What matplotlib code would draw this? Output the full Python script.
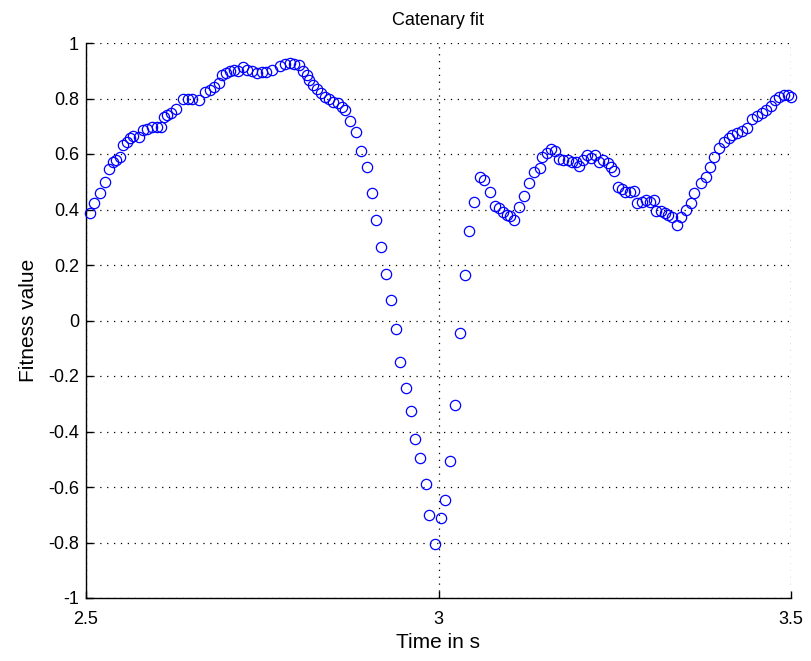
import matplotlib
matplotlib.use("Agg")
import matplotlib.pyplot as plt
from matplotlib.ticker import FixedLocator, FixedFormatter

# ---- data ----
time_s = [
    2.506, 2.512, 2.520, 2.527, 2.533, 2.539, 2.543, 2.548, 2.552, 2.558,
    2.563, 2.567, 2.575, 2.581, 2.586, 2.593, 2.600, 2.606, 2.610, 2.615,
    2.621, 2.628, 2.637, 2.645, 2.650, 2.660, 2.669, 2.676, 2.682, 2.688,
    2.693, 2.698, 2.704, 2.710, 2.716, 2.723, 2.728, 2.735, 2.743, 2.750,
    2.756, 2.764, 2.775, 2.782, 2.789, 2.795, 2.802, 2.808, 2.813, 2.817,
    2.822, 2.827, 2.833, 2.839, 2.845, 2.851, 2.858, 2.863, 2.868, 2.875,
    2.883, 2.890, 2.898, 2.905, 2.911, 2.918, 2.925, 2.932, 2.940, 2.945,
    2.954, 2.961, 2.967, 2.974, 2.982, 2.987, 2.995, 3.003, 3.009, 3.017,
    3.024, 3.030, 3.037, 3.043, 3.051, 3.059, 3.065, 3.073, 3.080, 3.086,
    3.092, 3.097, 3.101, 3.107, 3.114, 3.121, 3.129, 3.135, 3.144, 3.147,
    3.154, 3.160, 3.165, 3.171, 3.177, 3.184, 3.190, 3.195, 3.199, 3.205,
    3.211, 3.217, 3.222, 3.228, 3.234, 3.240, 3.245, 3.249, 3.254, 3.260,
    3.265, 3.272, 3.278, 3.282, 3.288, 3.294, 3.300, 3.306, 3.309, 3.315,
    3.321, 3.326, 3.331, 3.339, 3.344, 3.351, 3.358, 3.363, 3.373, 3.379,
    3.385, 3.391, 3.398, 3.405, 3.412, 3.417, 3.424, 3.431, 3.438, 3.445,
    3.452, 3.459, 3.465, 3.471, 3.477, 3.483, 3.490, 3.496, 3.500,
]
fitness = [
    0.388, 0.425, 0.458, 0.500, 0.546, 0.572, 0.580, 0.590, 0.632, 0.644,
    0.657, 0.665, 0.660, 0.686, 0.691, 0.698, 0.696, 0.698, 0.734, 0.741,
    0.747, 0.761, 0.800, 0.800, 0.800, 0.795, 0.825, 0.830, 0.843, 0.855,
    0.885, 0.891, 0.900, 0.903, 0.900, 0.915, 0.903, 0.900, 0.893, 0.895,
    0.897, 0.903, 0.917, 0.924, 0.929, 0.924, 0.921, 0.900, 0.885, 0.867,
    0.849, 0.833, 0.821, 0.807, 0.797, 0.789, 0.783, 0.770, 0.759, 0.720,
    0.680, 0.611, 0.552, 0.458, 0.361, 0.265, 0.168, 0.074, -0.030, -0.151,
    -0.243, -0.327, -0.428, -0.497, -0.589, -0.701, -0.807, -0.711, -0.647, -0.505,
    -0.306, -0.044, 0.163, 0.321, 0.426, 0.518, 0.506, 0.464, 0.413, 0.404,
    0.392, 0.380, 0.377, 0.362, 0.408, 0.449, 0.497, 0.536, 0.548, 0.590,
    0.603, 0.617, 0.612, 0.581, 0.578, 0.578, 0.572, 0.572, 0.557, 0.578,
    0.595, 0.584, 0.596, 0.572, 0.578, 0.566, 0.554, 0.540, 0.482, 0.473,
    0.464, 0.464, 0.468, 0.422, 0.428, 0.434, 0.428, 0.434, 0.396, 0.396,
    0.388, 0.380, 0.372, 0.344, 0.372, 0.398, 0.424, 0.458, 0.494, 0.518,
    0.552, 0.590, 0.620, 0.644, 0.657, 0.668, 0.675, 0.684, 0.693, 0.725,
    0.737, 0.747, 0.759, 0.773, 0.795, 0.807, 0.813, 0.813, 0.804,
]

x_ticks = [2.5, 3.0, 3.5]
x_tick_labels = ["2.5", "3", "3.5"]
y_ticks = [-1.0, -0.8, -0.6, -0.4, -0.2, 0.0, 0.2, 0.4, 0.6, 0.8, 1.0]
y_tick_labels = ["-1", "-0.8", "-0.6", "-0.4", "-0.2", "0", "0.2", "0.4", "0.6", "0.8", "1"]

title_text = "Catenary fit"
x_label = "Time in s"
y_label = "Fitness value"

# ---- figure ----
plt.rcParams["font.family"] = ["Liberation Sans", "DejaVu Sans"]
plt.rcParams["axes.unicode_minus"] = False

fig = plt.figure(figsize=(8.11, 6.61), dpi=100)
ax = fig.add_axes([86 / 811, 1 - 598 / 661, (791 - 86) / 811, (598 - 43) / 661])

ax.plot(time_s, fitness, linestyle="none", marker="o", markersize=7.4,
        markerfacecolor="none", markeredgecolor="#0000ff", markeredgewidth=0.9,
        clip_on=False, zorder=3)

ax.set_xlim(2.5, 3.5)
ax.set_ylim(-1, 1)
ax.xaxis.set_major_locator(FixedLocator(x_ticks))
ax.xaxis.set_major_formatter(FixedFormatter(x_tick_labels))
ax.yaxis.set_major_locator(FixedLocator(y_ticks))
ax.yaxis.set_major_formatter(FixedFormatter(y_tick_labels))

ax.grid(True, color="black", linestyle=(0, (1, 4.5)), linewidth=0.9)
ax.set_axisbelow(True)

for side in ["top", "right"]:
    ax.spines[side].set_visible(False)
for side in ["left", "bottom"]:
    ax.spines[side].set_linewidth(1.0)
    ax.spines[side].set_color("black")

ax.tick_params(direction="in", length=5, width=1.0, labelsize=13, colors="black")
ax.tick_params(axis="x", pad=9)
ax.tick_params(axis="y", pad=5)

ax.set_title(title_text, fontsize=13, pad=13)
ax.set_xlabel(x_label, fontsize=15, labelpad=4)
ax.set_ylabel(y_label, fontsize=15, labelpad=7)

fig.savefig("out.png", dpi=100)
